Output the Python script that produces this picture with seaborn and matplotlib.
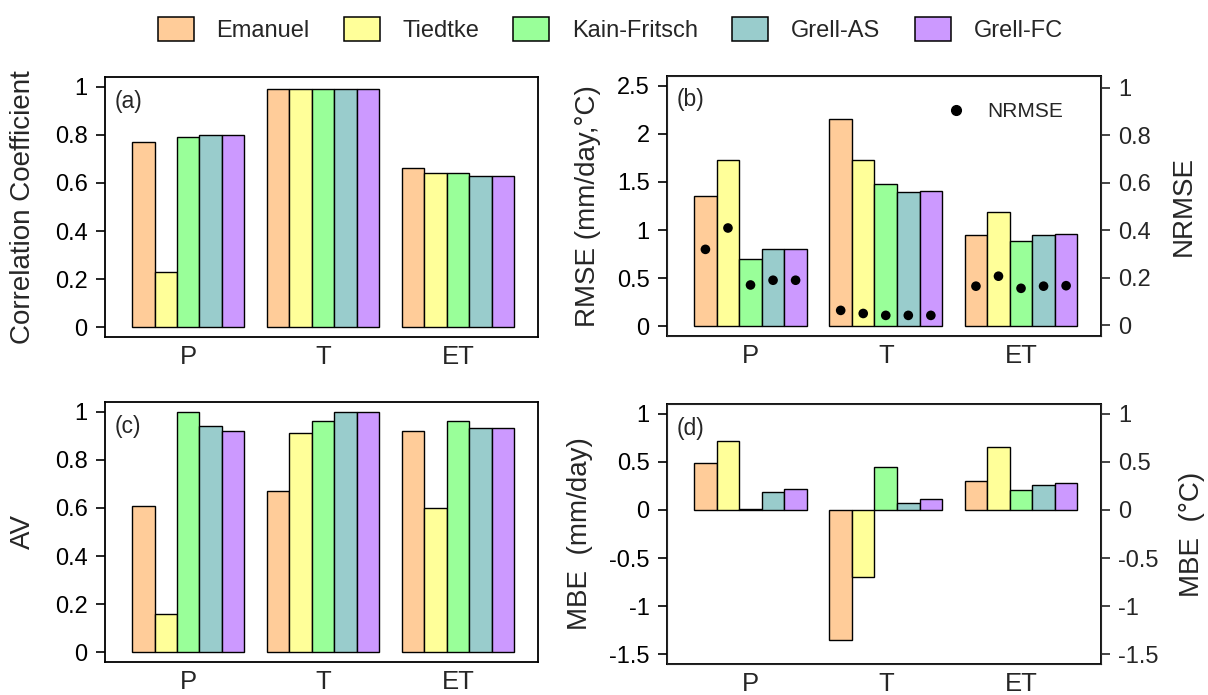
import numpy as np
import pandas as pd
import matplotlib
matplotlib.use("Agg")
import matplotlib.pyplot as plt
from matplotlib.patches import Patch
from matplotlib.lines import Line2D
from matplotlib.ticker import FuncFormatter
import seaborn as sns

variables = ["P", "T", "ET"]
schemes = ["Emanuel", "Tiedtke", "Kain-Fritsch", "Grell-AS", "Grell-FC"]
scheme_colors = ["#FFCC99", "#FFFF99", "#99FF99", "#99CCCC", "#CC99FF"]

# one row per variable (P, T, ET), one value per scheme
corr = [[0.77, 0.23, 0.79, 0.80, 0.80],
        [0.99, 0.99, 0.99, 0.99, 0.99],
        [0.66, 0.64, 0.64, 0.63, 0.63]]
rmse = [[1.35, 1.73, 0.70, 0.80, 0.80],
        [2.15, 1.73, 1.48, 1.40, 1.41],
        [0.95, 1.19, 0.89, 0.95, 0.96]]
nrmse = [[0.32, 0.41, 0.17, 0.19, 0.19],
         [0.063, 0.05, 0.042, 0.042, 0.042],
         [0.165, 0.207, 0.156, 0.165, 0.167]]
av = [[0.61, 0.16, 1.00, 0.94, 0.92],
      [0.67, 0.91, 0.96, 1.00, 1.00],
      [0.92, 0.60, 0.96, 0.93, 0.93]]
mbe = [[0.49, 0.72, 0.01, 0.19, 0.22],
       [-1.35, -0.70, 0.45, 0.07, 0.11],
       [0.30, 0.65, 0.21, 0.26, 0.28]]

sns.set_style("ticks")
plt.rcParams['font.family'] = ['Liberation Sans', 'DejaVu Sans']
plt.rcParams['axes.unicode_minus'] = False

BAR_W = 5 / 6  # 5 adjacent bars, one bar-width gap between groups
TICK_FS = 17
LABEL_FS = 20
XTICK_FS = 18.5
PANEL_FS = 16.5


def to_long(values):
    rows = []
    for gi, (v, row) in enumerate(zip(variables, values)):
        for hi, (s, val) in enumerate(zip(schemes, row)):
            rows.append({"var": v, "scheme": s, "value": val,
                         "xpos": gi + (hi - 2) * BAR_W / 5})
    return pd.DataFrame(rows)


fmt = FuncFormatter(lambda v, p: "%g" % v)


def style_axis(ax, ylim, yticks):
    ax.set_xlim(-0.617, 2.592)
    ax.set_ylim(*ylim)
    ax.set_yticks(yticks)
    ax.yaxis.set_major_formatter(fmt)
    ax.set_xlabel("")
    for sp in ax.spines.values():
        sp.set_visible(True)
        sp.set_linewidth(1.3)
        sp.set_color("black")
    ax.tick_params(axis="y", direction="out", length=6.5, width=1.2,
                   pad=6, labelsize=TICK_FS, colors="black")
    ax.tick_params(axis="x", length=0, pad=6, labelsize=XTICK_FS)


def right_axis(ax2, ylim, yticks, label, xcoord):
    ax2.set_ylim(*ylim)
    ax2.set_yticks(yticks)
    ax2.yaxis.set_major_formatter(fmt)
    ax2.tick_params(axis="y", direction="out", length=6.5, width=1.2,
                    pad=6, labelsize=TICK_FS)
    ax2.set_ylabel(label, fontsize=LABEL_FS, va="center", rotation=90)
    ax2.yaxis.set_label_coords(xcoord, 0.5)
    ax2.set_xlabel("")


def draw_bars(ax, values):
    df = to_long(values)
    sns.barplot(data=df, x="var", y="value", hue="scheme", order=variables,
                hue_order=schemes, palette=scheme_colors, width=BAR_W,
                saturation=1, edgecolor="black", linewidth=1.0,
                legend=False, errorbar=None, ax=ax)


fig = plt.figure(figsize=(12.08, 6.95), dpi=100)
ax_a = fig.add_axes([0.0869, 0.5151, 0.3585, 0.3741])
ax_b = fig.add_axes([0.5522, 0.5165, 0.3593, 0.3741])
ax_c = fig.add_axes([0.0869, 0.0475, 0.3585, 0.3741])
ax_d = fig.add_axes([0.5522, 0.0447, 0.3593, 0.3741])

# (a) correlation coefficient
draw_bars(ax_a, corr)
style_axis(ax_a, (-0.04, 1.04), [0, 0.2, 0.4, 0.6, 0.8, 1])
ax_a.set_ylabel("Correlation Coefficient", fontsize=LABEL_FS, va="center")
ax_a.yaxis.set_label_coords(-0.19, 0.5)
ax_a.text(0.023, 0.905, "(a)", transform=ax_a.transAxes, fontsize=PANEL_FS, va="center")

# (b) RMSE with NRMSE dots on a second axis
draw_bars(ax_b, rmse)
style_axis(ax_b, (-0.1, 2.6), [0, 0.5, 1, 1.5, 2, 2.5])
ax_b.set_ylabel("RMSE (mm/day,\u00b0C)", fontsize=LABEL_FS, va="center")
ax_b.yaxis.set_label_coords(-0.182, 0.5)
ax_b.text(0.023, 0.908, "(b)", transform=ax_b.transAxes, fontsize=PANEL_FS, va="center")
ax_b2 = ax_b.twinx()
sns.scatterplot(data=to_long(nrmse), x="xpos", y="value", color="black",
                s=48, edgecolor="none", legend=False, ax=ax_b2)
right_axis(ax_b2, (-0.045, 1.05), [0, 0.2, 0.4, 0.6, 0.8, 1], "NRMSE", 1.19)
ax_b2.legend(handles=[Line2D([], [], marker="o", color="black", ls="none",
                             markersize=7, label="NRMSE")],
             loc="center left", bbox_to_anchor=(0.598, 0.862), frameon=False,
             fontsize=15, handletextpad=0.5, borderaxespad=0)

# (c) AV
draw_bars(ax_c, av)
style_axis(ax_c, (-0.04, 1.04), [0, 0.2, 0.4, 0.6, 0.8, 1])
ax_c.set_ylabel("AV", fontsize=LABEL_FS, va="center")
ax_c.yaxis.set_label_coords(-0.19, 0.5)
ax_c.text(0.023, 0.905, "(c)", transform=ax_c.transAxes, fontsize=PANEL_FS, va="center")

# (d) MBE, same scale on both sides
draw_bars(ax_d, mbe)
mbe_ticks = [-1.5, -1, -0.5, 0, 0.5, 1]
style_axis(ax_d, (-1.6, 1.1), mbe_ticks)
ax_d.set_ylabel("MBE  (mm/day)", fontsize=LABEL_FS, va="center")
ax_d.yaxis.set_label_coords(-0.20, 0.5)
ax_d.text(0.023, 0.905, "(d)", transform=ax_d.transAxes, fontsize=PANEL_FS, va="center")
ax_d2 = ax_d.twinx()
right_axis(ax_d2, (-1.6, 1.1), mbe_ticks, "MBE  (\u00b0C)", 1.21)

# shared legend across the top
handles = [Patch(facecolor=c, edgecolor="black", linewidth=1.1, label=s)
           for s, c in zip(schemes, scheme_colors)]
fig.legend(handles=handles, loc="center", bbox_to_anchor=(0.505, 0.957),
           ncol=5, frameon=False, fontsize=17, handlelength=1.525,
           handleheight=1.19, handletextpad=0.97, columnspacing=1.44)

fig.savefig("out.png", dpi=100)
